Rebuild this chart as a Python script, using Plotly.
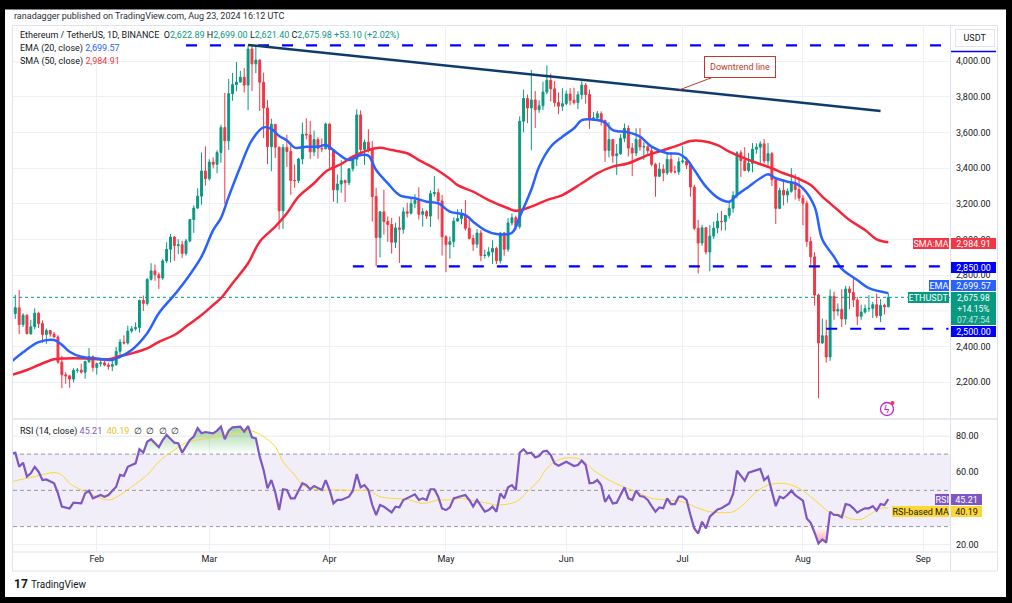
import pandas as pd
import plotly.graph_objects as go

# ETH/USDT daily candles, Binance, 10 Jan - 23 Aug 2024
start = pd.Timestamp("2024-01-10")
dates = pd.date_range(start, "2024-08-23", freq="D")

opens = [
    2344, 2585, 2618, 2524, 2576, 2472, 2511, 2587, 2529, 2468, 2490, 2470, 2454, 2313, 2242, 2236, 2218, 2267, 2268, 2257, 2316, 2343,
    2283, 2304, 2309, 2297, 2290, 2299, 2373, 2425, 2420, 2487, 2500, 2507, 2659, 2642, 2777, 2824, 2802, 2785, 2880, 2945, 3014, 2966, 2971, 2922, 2992, 3112, 3176, 3243, 3384,
    3341, 3434, 3421, 3487, 3627, 3553, 3817, 3868, 3882, 3909, 3865, 4067, 3984, 4005, 3881, 3737, 3520, 3645, 3517, 3161, 3516, 3493, 3331, 3330, 3451, 3590, 3586, 3491, 3560, 3510, 3508,
    3647, 3504, 3278, 3311, 3330, 3318, 3396, 3450, 3698, 3504, 3545, 3505, 3241, 3011, 3155, 3101, 3084, 2985, 3065, 3057, 3155, 3147, 3201, 3219, 3141, 3156, 3131, 3257, 3263, 3216,
    3015, 2972, 2988, 3103, 3118, 3138, 3063, 3006, 2974, 3036, 2910, 2912, 2930, 2950, 2881, 3037, 2945, 3093, 3122, 3072, 3662, 3790, 3737, 3782, 3727, 3749, 3826, 3892, 3844, 3767, 3747,
    3761, 3815, 3780, 3767, 3811, 3865, 3812, 3678, 3681, 3705, 3667, 3499, 3560, 3469, 3480, 3567, 3623, 3512, 3484, 3560, 3518, 3520, 3497, 3421, 3354, 3394, 3373, 3449, 3379, 3379,
    3435, 3440, 3417, 3294, 3063, 2980, 3066, 2930, 3019, 3064, 3102, 3100, 3135, 3175, 3247, 3486, 3442, 3387, 3427, 3506, 3517, 3536, 3440, 3481, 3335, 3174, 3275, 3249, 3270, 3318, 3280,
    3232, 3203, 2989, 2903, 2689, 2420, 2461, 2342, 2682, 2599, 2609, 2555, 2723, 2703, 2661, 2570, 2594, 2613, 2614, 2635, 2573, 2631, 2622.89,
]
highs = [
    2644, 2690, 2717, 2587, 2580, 2550, 2614, 2595, 2547, 2502, 2492, 2482, 2464, 2348, 2257, 2242, 2279, 2280, 2304, 2321, 2392, 2351,
    2310, 2325, 2327, 2310, 2336, 2398, 2442, 2463, 2518, 2515, 2536, 2664, 2686, 2782, 2867, 2860, 2815, 2892, 2985, 3031, 3019, 3002, 2993, 3003, 3115, 3191, 3287, 3487, 3522,
    3450, 3460, 3500, 3643, 3822, 3900, 3933, 3994, 3945, 3960, 4087, 4093, 4084, 4010, 3935, 3781, 3677, 3645, 3520, 3535, 3588, 3545, 3420, 3458, 3655, 3679, 3664, 3610, 3573, 3567, 3655,
    3650, 3504, 3365, 3444, 3336, 3400, 3460, 3729, 3724, 3560, 3618, 3552, 3290, 3160, 3278, 3129, 3121, 3094, 3129, 3180, 3206, 3238, 3254, 3292, 3175, 3165, 3275, 3355, 3285, 3250,
    3024, 3016, 3124, 3169, 3171, 3221, 3129, 3025, 3058, 3053, 2943, 2957, 2996, 2959, 3040, 3042, 3120, 3146, 3134, 3690, 3840, 3812, 3950, 3832, 3779, 3884, 3975, 3930, 3887, 3824, 3848,
    3835, 3848, 3850, 3831, 3888, 3877, 3840, 3714, 3720, 3718, 3672, 3658, 3562, 3535, 3590, 3650, 3640, 3540, 3623, 3625, 3545, 3527, 3520, 3430, 3430, 3421, 3480, 3490, 3413, 3460,
    3524, 3463, 3430, 3306, 3110, 3082, 3069, 3080, 3100, 3148, 3160, 3137, 3205, 3270, 3495, 3500, 3517, 3486, 3540, 3539, 3550, 3563, 3540, 3490, 3341, 3290, 3330, 3286, 3400, 3366, 3350,
    3250, 3218, 3015, 2928, 2697, 2557, 2551, 2721, 2708, 2642, 2721, 2740, 2738, 2782, 2679, 2635, 2635, 2688, 2650, 2697, 2665, 2640, 2699.00,
]
lows = [
    2333, 2555, 2470, 2510, 2470, 2466, 2497, 2504, 2421, 2415, 2455, 2450, 2304, 2167, 2192, 2170, 2199, 2253, 2249, 2220, 2308, 2260,
    2243, 2288, 2290, 2270, 2263, 2293, 2343, 2412, 2411, 2477, 2489, 2478, 2600, 2630, 2770, 2769, 2723, 2773, 2868, 2872, 2880, 2918, 2897, 2910, 2985, 3037, 3171, 3195, 3302,
    3330, 3398, 3371, 3430, 3200, 3502, 3777, 3830, 3880, 3824, 3725, 3831, 3932, 3720, 3568, 3422, 3383, 3456, 3056, 3060, 3406, 3250, 3290, 3316, 3421, 3561, 3450, 3467, 3453, 3490, 3505,
    3400, 3212, 3203, 3262, 3210, 3304, 3381, 3412, 3466, 3418, 3487, 3101, 2852, 2900, 3027, 2987, 2921, 2952, 2868, 3033, 3123, 3140, 3176, 3112, 3072, 3115, 3070, 3240, 3112, 2910,
    2817, 2893, 2957, 3100, 3085, 3050, 3000, 2936, 2952, 2879, 2894, 2900, 2863, 2862, 2865, 2909, 2931, 3079, 3051, 3060, 3600, 3652, 3500, 3625, 3710, 3725, 3814, 3773, 3744, 3702, 3720,
    3752, 3752, 3756, 3730, 3785, 3761, 3620, 3665, 3670, 3638, 3435, 3460, 3430, 3362, 3474, 3545, 3465, 3355, 3467, 3497, 3447, 3480, 3410, 3240, 3351, 3326, 3361, 3370, 3371, 3362,
    3425, 3395, 3240, 3053, 2810, 2965, 2916, 2822, 3003, 3034, 3050, 3051, 3118, 3150, 3231, 3350, 3383, 3376, 3376, 3480, 3424, 3426, 3413, 3300, 3087, 3170, 3191, 3207, 3262, 3224, 3215,
    3080, 2960, 2858, 2630, 2111, 2415, 2310, 2320, 2550, 2573, 2510, 2523, 2610, 2622, 2520, 2550, 2585, 2595, 2560, 2560, 2538, 2580, 2621.40,
]
closes = [
    2585, 2618, 2524, 2576, 2472, 2511, 2587, 2529, 2468, 2490, 2470, 2454, 2313, 2242, 2236, 2218, 2267, 2268, 2257, 2316, 2343, 2283,
    2304, 2309, 2297, 2290, 2299, 2373, 2425, 2420, 2487, 2500, 2507, 2659, 2642, 2777, 2824, 2802, 2785, 2880, 2945, 3014, 2966, 2971, 2922, 2992, 3112, 3176, 3243, 3384, 3341,
    3434, 3421, 3487, 3627, 3553, 3817, 3868, 3882, 3909, 3865, 4067, 3984, 4005, 3881, 3737, 3520, 3645, 3517, 3161, 3516, 3493, 3331, 3330, 3451, 3590, 3586, 3491, 3560, 3510, 3508, 3647,
    3504, 3278, 3311, 3330, 3318, 3396, 3450, 3698, 3504, 3545, 3505, 3241, 3011, 3155, 3101, 3084, 2985, 3065, 3057, 3155, 3147, 3201, 3219, 3141, 3156, 3131, 3257, 3263, 3216, 3015,
    2972, 2988, 3103, 3118, 3138, 3063, 3006, 2974, 3036, 2910, 2912, 2930, 2950, 2881, 3037, 2945, 3093, 3122, 3072, 3662, 3790, 3737, 3782, 3727, 3749, 3826, 3892, 3844, 3767, 3747, 3761,
    3815, 3780, 3767, 3811, 3865, 3812, 3678, 3681, 3705, 3667, 3499, 3560, 3469, 3480, 3567, 3623, 3512, 3484, 3560, 3518, 3520, 3497, 3421, 3354, 3394, 3373, 3449, 3379, 3379, 3435,
    3440, 3417, 3294, 3063, 2980, 3066, 2930, 3019, 3064, 3102, 3100, 3135, 3175, 3247, 3486, 3442, 3387, 3427, 3506, 3517, 3536, 3440, 3481, 3335, 3174, 3275, 3249, 3270, 3318, 3280, 3232,
    3203, 2989, 2903, 2689, 2420, 2461, 2342, 2682, 2599, 2609, 2555, 2723, 2703, 2661, 2570, 2594, 2613, 2614, 2635, 2573, 2631, 2622.89, 2675.98,
]

# indicator values, x = days after 10 Jan
ema_day = [0, 3, 7, 11, 13, 15, 18, 22, 26, 28, 31, 35, 38, 42, 45, 49, 52, 54, 56, 59, 62, 65, 67, 69, 71, 73, 76, 79, 81, 84,
           87, 90, 92, 94, 97, 100, 104, 107, 110, 113, 117, 119, 122, 125, 129, 131, 134, 136, 139, 142, 145, 147, 151, 153, 155, 159, 162, 165, 169, 172,
           174, 176, 179, 182, 185, 187, 190, 193, 195, 197, 200, 202, 204, 207, 209, 212, 214, 218, 221, 226]
ema_val = [2315, 2368, 2425, 2437, 2410, 2371, 2343, 2334, 2325, 2343, 2381, 2475, 2587, 2690, 2773, 2904, 3053, 3120, 3240, 3408, 3557, 3628, 3620, 3580, 3555, 3515, 3520, 3520, 3529, 3483,
           3445, 3473, 3470, 3389, 3315, 3249, 3231, 3212, 3203, 3156, 3137, 3100, 3053, 3031, 3038, 3128, 3280, 3408, 3520, 3576, 3623, 3669, 3669, 3655, 3613, 3600, 3576, 3520, 3483, 3480,
           3450, 3390, 3296, 3235, 3212, 3249, 3296, 3343, 3365, 3343, 3324, 3315, 3287, 3184, 3000, 2904, 2835, 2773, 2727, 2699.57]

sma_day = [0, 4, 7, 11, 14, 19, 25, 28, 31, 35, 38, 42, 45, 49, 52, 54, 57, 61, 64, 68, 71, 74, 78, 81, 85, 88, 92, 95, 98, 102,
           105, 109, 113, 115, 119, 123, 128, 130, 134, 138, 142, 147, 151, 155, 159, 164, 168, 172, 175, 178, 182, 185, 189, 192, 196, 199, 202, 206, 209, 213,
           216, 220, 223, 226]
sma_val = [2241, 2269, 2297, 2329, 2334, 2334, 2329, 2347, 2362, 2390, 2427, 2465, 2512, 2577, 2633, 2671, 2755, 2867, 2988, 3072, 3147, 3240, 3315, 3380, 3423, 3464, 3501, 3514, 3501, 3483,
           3445, 3399, 3340, 3305, 3268, 3221, 3175, 3161, 3184, 3221, 3249, 3315, 3371, 3408, 3427, 3473, 3501, 3529, 3552, 3552, 3529, 3492, 3455, 3430, 3399, 3371, 3348, 3305, 3240, 3165,
           3109, 3053, 3001, 2984.91]

rsi_day = [0, 1, 2, 3, 4, 5, 6, 7, 8, 9,
           11, 12, 13, 15, 16, 18, 19, 20, 21, 23,
           24, 25, 27, 28, 29, 30, 31, 32, 33, 34,
           35, 36, 37, 38, 39, 40, 42, 43, 44, 45,
           46, 47, 48, 49, 50, 52, 53, 54, 55, 56,
           57, 59, 60, 61, 62, 63, 64, 65, 66, 67,
           68, 69, 70, 71, 72, 73, 75, 76, 77, 78,
           80, 81, 82, 83, 84, 85, 87, 88, 89, 90,
           91, 92, 93, 94, 95, 96, 98, 99, 100, 101,
           102, 104, 105, 106, 107, 108, 109, 110, 111, 112,
           113, 114, 116, 117, 118, 119, 120, 122, 123, 124,
           125, 126, 127, 128, 129, 130, 131, 132, 133, 134,
           135, 136, 137, 138, 139, 140, 141, 142, 143, 145,
           146, 147, 148, 149, 150, 151, 152, 153, 154, 155,
           156, 157, 158, 159, 160, 161, 162, 163, 164, 165,
           166, 167, 168, 169, 170, 171, 172, 173, 174, 175,
           176, 177, 178, 179, 180, 182, 183, 185, 186, 187,
           188, 189, 190, 192, 193, 194, 195, 196, 197, 198,
           199, 200, 201, 202, 204, 205, 206, 207, 208, 209,
           210, 211, 212, 213, 214, 215, 216, 217, 218, 219,
           220, 221, 222, 223, 224, 225, 226]
rsi_val = [70.4, 70.8, 63.0, 65.3, 57.6, 59.4, 63.0, 60.3, 55.7, 56.0,
           53.9, 48.3, 41.0, 40.0, 43.2, 42.8, 48.3, 49.8, 45.6, 47.4,
           46.5, 47.4, 52.0, 58.5, 57.9, 63.0, 64.0, 64.9, 72.7, 70.8,
           76.9, 78.2, 76.0, 73.8, 77.8, 80.6, 76.3, 76.0, 70.8, 74.1,
           77.8, 79.7, 84.3, 81.5, 82.2, 81.5, 83.0, 85.2, 78.2, 83.0,
           84.8, 85.2, 82.4, 85.5, 79.3, 78.7, 68.6, 61.2, 51.1, 55.7,
           49.0, 39.1, 50.6, 50.2, 45.6, 45.6, 53.9, 52.9, 50.6, 52.4,
           50.2, 55.7, 50.2, 42.8, 44.7, 44.7, 46.5, 49.8, 59.0, 51.7,
           52.9, 50.2, 41.9, 36.4, 41.9, 41.0, 37.8, 41.0, 40.6, 44.7,
           45.6, 47.8, 44.7, 45.6, 44.7, 50.6, 50.6, 46.5, 40.0, 39.1,
           40.6, 45.6, 46.9, 47.4, 44.7, 41.0, 44.7, 38.2, 39.1, 41.0,
           38.2, 48.3, 45.6, 51.7, 52.9, 50.2, 70.8, 72.7, 70.4, 70.8,
           68.2, 69.0, 71.4, 71.9, 69.5, 64.9, 63.6, 64.9, 65.8, 63.4,
           64.0, 66.4, 64.0, 53.9, 54.2, 55.7, 52.9, 43.7, 46.9, 42.8,
           43.2, 47.4, 51.7, 45.6, 44.7, 49.8, 46.9, 46.5, 44.7, 41.3,
           38.2, 40.6, 40.1, 45.6, 42.4, 42.4, 46.5, 46.5, 44.7, 36.4,
           29.0, 26.2, 32.7, 29.0, 35.5, 39.5, 40.1, 42.8, 48.0, 60.9,
           57.9, 55.3, 59.8, 61.2, 61.8, 55.7, 57.6, 49.3, 41.3, 46.5,
           45.6, 47.4, 49.8, 47.4, 44.3, 34.5, 32.1, 26.6, 20.7, 22.9,
           21.1, 38.2, 36.4, 36.4, 35.1, 42.4, 41.9, 40.1, 37.7, 39.1,
           40.1, 40.1, 41.3, 38.8, 42.4, 41.9, 45.21]

rsima_day = [0, 6, 11, 13, 15, 18, 21, 25, 28, 31, 35, 38, 42, 45, 49, 53, 57, 61, 62, 65,
             68, 70, 73, 75, 78, 81, 85, 88, 92, 95, 98, 102, 106, 110, 113, 116, 118, 123, 125, 130,
             133, 136, 138, 141, 144, 147, 150, 154, 158, 162, 165, 169, 173, 176, 180, 184, 186, 189, 192, 195,
             198, 200, 203, 206, 209, 211, 214, 216, 219, 221, 224, 226]
rsima_val = [54.8, 57.6, 59.8, 58.5, 53.9, 50.2, 47.4, 44.7, 47.4, 52.0, 58.5, 65.8, 72.3, 76.3, 78.2, 79.7, 81.5, 83.0, 82.8, 79.7,
             74.1, 65.8, 58.5, 52.9, 50.6, 50.2, 50.2, 49.8, 49.8, 46.5, 45.6, 45.0, 42.8, 44.7, 44.7, 45.6, 44.7, 42.8, 41.9, 43.7,
             49.3, 55.7, 62.2, 66.8, 68.0, 66.8, 61.2, 55.7, 51.7, 48.3, 45.6, 44.7, 43.7, 41.0, 38.2, 37.7, 38.2, 42.8, 49.3, 52.9,
             53.9, 53.5, 51.1, 46.5, 41.0, 37.7, 36.4, 34.5, 34.0, 36.4, 40.1, 40.19]

# 2,600 and 40.00 sit fully under the value tags on the original, so they are left out
price_ticks = [2200, 2400, 2800, 3000, 3200, 3400, 3600, 3800, 4000]
rsi_ticks = [20, 60, 80]
rsi_grid = [20, 40, 60, 80]

# drawings on the chart
top_level = 4088
support_high = 2850
support_low = 2500
last_close = 2675.98

UP, DOWN = "#089981", "#F23645"
TEXT = "#131722"
GRID = "#eef0f4"
FRAME = "#e0e3eb"
LEVEL = "#0000ff"
PURPLE, YELLOW = "#7E57C2", "#FDD835"

# pixel helpers (page is 1012 x 603, plot area x 13..950, y 27..552)
W, H = 1012, 603
ML, MR, MT, MB = 13, 62, 27, 51
PW, PH = W - ML - MR, H - MT - MB


def fx(px):
    return (px - ML) / PW


def fy(py):
    return (H - MB - py) / PH


def day(d):
    return start + pd.Timedelta(days=d)


split = 133 / PH

fig = go.Figure()
fig.add_trace(go.Candlestick(
    x=dates, open=opens, high=highs, low=lows, close=closes,
    increasing=dict(line=dict(color=UP, width=1), fillcolor=UP),
    decreasing=dict(line=dict(color=DOWN, width=1), fillcolor=DOWN),
    whiskerwidth=0, hoverinfo="skip", yaxis="y"))
fig.add_trace(go.Scatter(x=[day(d) for d in sma_day], y=sma_val, mode="lines",
                         line=dict(color="#F7253A", width=2.5, shape="spline"), hoverinfo="skip", yaxis="y"))
fig.add_trace(go.Scatter(x=[day(d) for d in ema_day], y=ema_val, mode="lines",
                         line=dict(color="#2962FF", width=2.5, shape="spline"), hoverinfo="skip", yaxis="y"))

# RSI pane: overbought / oversold gradient fills, then lines
rsi_x = [day(d) for d in rsi_day]
fig.add_trace(go.Scatter(x=rsi_x, y=[70] * len(rsi_x), mode="lines", line=dict(width=0), hoverinfo="skip", yaxis="y2"))
fig.add_trace(go.Scatter(x=rsi_x, y=[max(v, 70) for v in rsi_val], mode="lines", line=dict(width=0), fill="tonexty",
                         fillgradient=dict(type="vertical", colorscale=[[0, "rgba(76,175,80,0)"], [1, "rgba(76,175,80,0.55)"]]),
                         hoverinfo="skip", yaxis="y2"))
fig.add_trace(go.Scatter(x=rsi_x, y=[30] * len(rsi_x), mode="lines", line=dict(width=0), hoverinfo="skip", yaxis="y2"))
fig.add_trace(go.Scatter(x=rsi_x, y=[min(v, 30) for v in rsi_val], mode="lines", line=dict(width=0), fill="tonexty",
                         fillgradient=dict(type="vertical", colorscale=[[0, "rgba(242,54,69,0.45)"], [1, "rgba(242,54,69,0)"]]),
                         hoverinfo="skip", yaxis="y2"))
fig.add_trace(go.Scatter(x=[day(d) for d in rsima_day], y=rsima_val, mode="lines",
                         line=dict(color=YELLOW, width=1, shape="spline"), hoverinfo="skip", yaxis="y2"))
fig.add_trace(go.Scatter(x=rsi_x, y=rsi_val, mode="lines", line=dict(color=PURPLE, width=2.2),
                         hoverinfo="skip", yaxis="y2"))

shapes = [
    # white card on the dark screenshot border
    dict(type="rect", xref="paper", yref="paper", x0=fx(5), x1=fx(1006), y0=fy(9.5), y1=fy(597),
         fillcolor="white", line=dict(width=0), layer="below"),
    # RSI 30-70 band
    dict(type="rect", xref="paper", yref="y2", x0=0, x1=1, y0=30, y1=70,
         fillcolor="rgba(126,87,194,0.10)", line=dict(width=0), layer="below"),
]
# RSI grid (40 has no visible label) and level lines
for g in rsi_grid:
    shapes.append(dict(type="line", xref="paper", yref="y2", x0=0, x1=1, y0=g, y1=g,
                       line=dict(color=GRID, width=1), layer="below"))
for lvl in (70, 50, 30):
    shapes.append(dict(type="line", xref="paper", yref="y2", x0=0, x1=1, y0=lvl, y1=lvl,
                       line=dict(color="#9598a1", width=1, dash="4px,3px"), layer="below"))
# main pane grid line at 2,600 (label hidden on the original)
shapes.append(dict(type="line", xref="paper", yref="y", x0=0, x1=1, y0=2600, y1=2600,
                   line=dict(color=GRID, width=1), layer="below"))

# drawings: horizontal levels, downtrend line, last price
dash = "11px,13px"
shapes += [
    dict(type="line", xref="paper", yref="y", x0=fx(186), x1=fx(947), y0=top_level, y1=top_level,
         line=dict(color=LEVEL, width=2.2, dash=dash)),
    dict(type="line", xref="x", yref="y", x0=day(88), x1=day(241.5), y0=support_high, y1=support_high,
         line=dict(color=LEVEL, width=2.2, dash=dash)),
    dict(type="line", xref="x", yref="y", x0=day(210), x1=day(241.5), y0=support_low, y1=support_low,
         line=dict(color=LEVEL, width=2.2, dash=dash)),
    dict(type="line", xref="x", yref="y", x0=day(61), x1=day(224), y0=4090, y1=3720,
         line=dict(color="#0E3B6B", width=2.5)),
    dict(type="line", xref="paper", yref="y", x0=0, x1=1, y0=last_close, y1=last_close,
         line=dict(color=UP, width=1, dash="dot")),
]


def pline(x0, y0, x1, y1, color=FRAME, width=1):
    shapes.append(dict(type="line", xref="paper", yref="paper", x0=fx(x0), y0=fy(y0), x1=fx(x1), y1=fy(y1),
                       line=dict(color=color, width=width), layer="above"))


# chart frame, axis separators
pline(12.5, 25.5, 997.5, 25.5)
pline(12.5, 25.5, 12.5, 571)
pline(997.5, 25.5, 997.5, 571)
pline(950.5, 25.5, 950.5, 571)
pline(12.5, 419, 997.5, 419, width=1.5)
pline(12.5, 552, 997.5, 552)
pline(12.5, 571, 997.5, 571)
pline(951, 51.5, 996, 51.5, color=LEVEL, width=1.5)

# lightning badge
shapes.append(dict(type="circle", xref="paper", yref="paper", x0=fx(880.5), x1=fx(893.5), y0=fy(402.5), y1=fy(415.5),
                   line=dict(color="#c026d3", width=1.3), fillcolor="white"))
shapes.append(dict(type="circle", xref="paper", yref="paper", x0=fx(890.5), x1=fx(894.5), y0=fy(401), y1=fy(405),
                   line=dict(width=0), fillcolor="#f23645"))

annotations = []


def text(s, x, y, size=9, color=TEXT, anchor="left"):
    annotations.append(dict(text=s, xref="paper", yref="paper", x=fx(x), y=fy(y), xanchor=anchor, yanchor="middle",
                            showarrow=False, font=dict(size=size, color=color)))


def label(s, y, bg, fg="white", left=None, right=None, width=None, size=9, pad=0.5):
    a = dict(text=s, xref="paper", yref="paper", y=fy(y), yanchor="middle", showarrow=False,
             bgcolor=bg, borderpad=pad, borderwidth=0, font=dict(size=size, color=fg))
    if left is not None:
        a.update(x=fx(left), xanchor="left")
    else:
        a.update(x=fx(right), xanchor="right")
    if width:
        a["width"] = width
    annotations.append(a)


def c(s, col):
    return '<span style="color:%s">%s</span>' % (col, s)


text("ranadagger published on TradingView.com, Aug 23, 2024 16:12 UTC", 12, 16.5, color="#2a2e39")
text("Ethereum / TetherUS, 1D, BINANCE&nbsp;&nbsp;O" + c("2,622.89", UP) + " H" + c("2,699.00", UP)
     + " L" + c("2,621.40", UP) + " C" + c("2,675.98", UP) + " " + c("+53.10 (+2.02%)", UP), 18, 36)
text("EMA (20, close) " + c("2,699.57", "#2962FF"), 18, 49)
text("SMA (50, close) " + c("2,984.91", "#F23645"), 18, 61)
text("RSI (14, close) " + c("45.21", PURPLE) + "&nbsp;&nbsp;" + c("40.19", "#E8C21A")
     + "&nbsp;&nbsp;∅&nbsp;&nbsp;∅&nbsp;&nbsp;∅&nbsp;&nbsp;∅", 18, 431)

# price scale labels
annotations.append(dict(text="USDT", xref="paper", yref="paper", x=fx(975), y=fy(37.5), xanchor="center",
                        yanchor="middle", showarrow=False, bgcolor="white", bordercolor=FRAME, borderwidth=1,
                        borderpad=3, width=32, font=dict(size=9, color=TEXT)))
label("SMA:MA", 243, "#F23645", right=948.5)
label("2,984.91", 243, "#F23645", left=951, width=44)
label("2,850.00", 267, LEVEL, left=951, width=44)
label("EMA", 285.8, "#2962FF", right=948.5)
label("2,699.57", 285.8, "#2962FF", left=951, width=44)
label("ETHUSDT", 297.5, UP, right=948.5)
label("2,675.98<br>+14.15%<br>" + c("07:47:54", "rgba(255,255,255,0.75)"), 308.7, UP, left=951, width=44, size=8.5)
label("2,500.00", 331.5, LEVEL, left=951, width=44)
label("RSI", 499, PURPLE, right=948.5)
label("45.21", 499, PURPLE, left=951, width=30)
label("RSI-based MA", 511.5, YELLOW, fg=TEXT, right=948.5)
label("40.19", 511.5, YELLOW, fg=TEXT, left=951, width=30)

# downtrend callout
annotations.append(dict(text="Downtrend line", xref="paper", yref="paper", x=fx(679), y=fy(90), ax=61, ay=-23,
                        showarrow=True, arrowhead=0, arrowwidth=1, arrowcolor="#c0392b", bgcolor="white",
                        bordercolor="#c0392b", borderwidth=1, borderpad=5, font=dict(size=9, color="#c0392b")))

text("ϟ", 887, 409, size=10, color="#c026d3", anchor="center")
text("<b>17</b>", 12, 584, size=12, color=TEXT)
text("TradingView", 29, 584, size=10, color=TEXT)

fig.update_layout(
    width=W, height=H, margin=dict(l=ML, r=MR, t=MT, b=MB),
    paper_bgcolor="#000000", plot_bgcolor="white",
    font=dict(family="Roboto, sans-serif", size=9, color=TEXT),
    showlegend=False, hovermode=False,
    xaxis=dict(type="date", anchor="y2", range=[day(0.41), day(241.9)], dtick="M1", tick0="2024-01-01",
               tickformat="%b", showgrid=True, gridcolor=GRID, zeroline=False, showline=False, ticks="",
               rangeslider=dict(visible=False), fixedrange=True),
    yaxis=dict(domain=[split, 1], anchor="x", range=[1994.4, 4190.5], side="right", tickvals=price_ticks,
               tickformat=",.2f", showgrid=True, gridcolor=GRID, zeroline=False, showline=False, ticks="",
               ticklabelstandoff=5, fixedrange=True),
    yaxis2=dict(domain=[0, split], anchor="x", range=[15.97, 89.39], side="right", tickvals=rsi_ticks,
                tickformat=".2f", showgrid=True, gridcolor=GRID, zeroline=False, showline=False, ticks="",
                ticklabelstandoff=5, fixedrange=True),
    shapes=shapes, annotations=annotations,
)

fig.write_html("out.html", config={"displayModeBar": False},
               post_script="document.body.style.margin='0';")
